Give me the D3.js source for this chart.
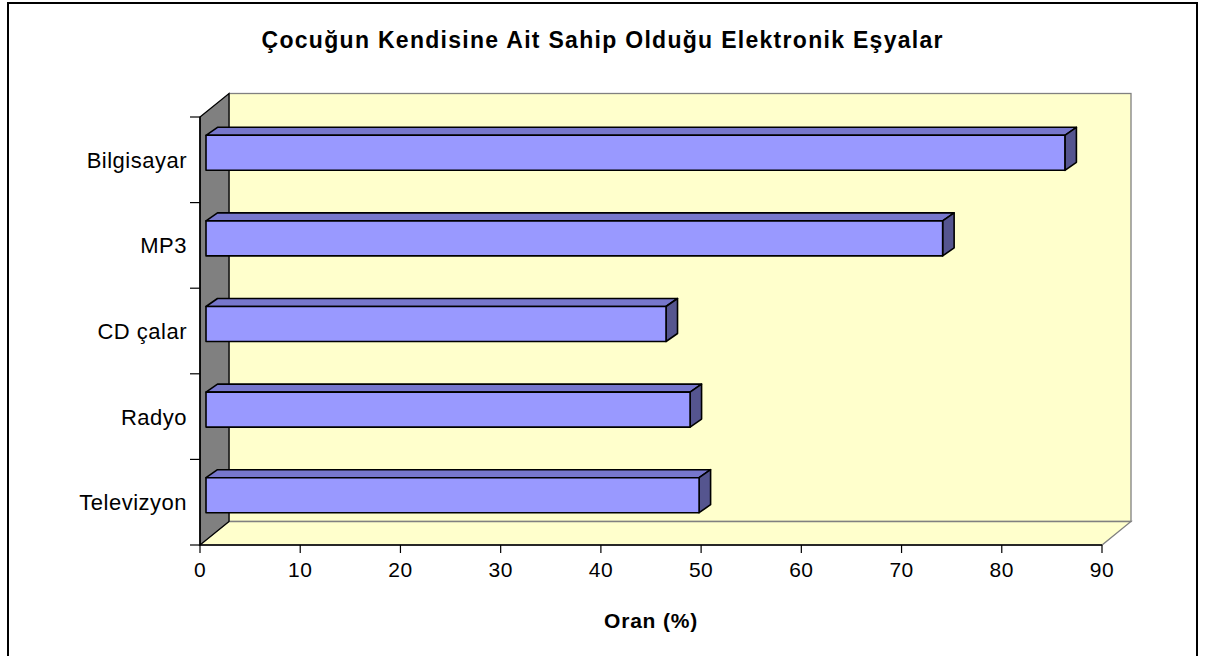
<!DOCTYPE html>
<html><head><meta charset="utf-8">
<script src="https://cdn.jsdelivr.net/npm/d3@7"></script>
<style>body{margin:0;background:#fff}svg{display:block;font-family:"Liberation Sans",Arial,sans-serif}</style>
</head><body><svg id="c" width="1214" height="656"></svg>
<script>
const categories = ["Bilgisayar","MP3","CD çalar","Radyo","Televizyon"];
const values = [85.7, 73.5, 45.9, 48.3, 49.2];
const xTicks = [0,10,20,30,40,50,60,70,80,90];
const title = "Çocuğun Kendisine Ait Sahip Olduğu Elektronik Eşyalar";
const xTitle = "Oran (%)";

const svg = d3.select("#c");
const x = d3.scaleLinear().domain([0,90]).range([200,1102]);
const y = d3.scaleBand().domain(categories).range([117,545]);
const D = [29,-23.5]; // wall depth
const top0 = 117, bot0 = 545;

// frame
svg.append("rect").attr("x",8).attr("y",3).attr("width",1189).attr("height",700)
  .attr("fill","#fff").attr("stroke","#000").attr("stroke-width",2);

// title
svg.append("text").attr("x",602).attr("y",48).attr("text-anchor","middle")
  .attr("font-weight","bold").attr("font-size",23)
  .attr("textLength",681).attr("lengthAdjust","spacing").text(title);

// back wall
svg.append("rect").attr("x",x(0)+D[0]).attr("y",top0+D[1]).attr("width",x(90)-x(0)).attr("height",bot0-top0)
  .attr("fill","#FFFFCC").attr("stroke","#808080").attr("stroke-width",1.3);
// floor
svg.append("polygon").attr("points",[[x(0),bot0],[x(0)+D[0],bot0+D[1]],[x(90)+D[0],bot0+D[1]],[x(90),bot0]].join(" "))
  .attr("fill","#FFFFCC").attr("stroke","#808080").attr("stroke-width",1.3);
// side wall
svg.append("polygon").attr("points",[[x(0),top0],[x(0)+D[0],top0+D[1]],[x(0)+D[0],bot0+D[1]],[x(0),bot0]].join(" "))
  .attr("fill","#808080").attr("stroke","#000").attr("stroke-width",1.3);

// axes lines
svg.append("line").attr("x1",x(0)).attr("x2",x(0)).attr("y1",top0).attr("y2",bot0).attr("stroke","#000").attr("stroke-width",1.5);
svg.append("line").attr("x1",x(0)).attr("x2",x(90)).attr("y1",bot0).attr("y2",bot0).attr("stroke","#000").attr("stroke-width",1.5);

// y ticks
const yEdges = categories.map(c=>y(c)).concat([bot0]);
svg.selectAll(".yt").data(yEdges).join("line").attr("x1",190).attr("x2",x(0)).attr("y1",d=>d).attr("y2",d=>d)
  .attr("stroke","#000").attr("stroke-width",1.2);
// x ticks
svg.selectAll(".xt").data(xTicks).join("line").attr("x1",d=>x(d)).attr("x2",d=>x(d)).attr("y1",bot0).attr("y2",bot0+8)
  .attr("stroke","#000").attr("stroke-width",1.2);
svg.selectAll(".xl").data(xTicks).join("text").attr("x",d=>x(d)).attr("y",577).attr("text-anchor","middle")
  .attr("font-size",21).attr("letter-spacing",0.5).text(d=>d);
// category labels
svg.selectAll(".yl").data(categories).join("text").attr("x",187).attr("y",c=>y(c)+y.bandwidth()/2+8)
  .attr("text-anchor","end").attr("font-size",22).attr("letter-spacing",0.5).text(c=>c);
// x title
svg.append("text").attr("x",651).attr("y",628).attr("text-anchor","middle").attr("font-weight","bold")
  .attr("font-size",21).attr("letter-spacing",0.8).text(xTitle);

// bars
const off = [6,-7], bd = [11.5,-8], bh = 35;
const g = svg.append("g").attr("stroke","#000").attr("stroke-width",1.6).attr("stroke-linejoin","round");
categories.forEach((c,i)=>{
  const x0 = x(0)+off[0], x1 = x(values[i])+off[0];
  const yc = y(c)+y.bandwidth()/2+off[1];
  const yt = yc-bh/2, yb = yc+bh/2;
  g.append("polygon").attr("points",[[x0,yt],[x0+bd[0],yt+bd[1]],[x1+bd[0],yt+bd[1]],[x1,yt]].join(" ")).attr("fill","#7777CC");
  g.append("polygon").attr("points",[[x1,yt],[x1+bd[0],yt+bd[1]],[x1+bd[0],yb+bd[1]],[x1,yb]].join(" ")).attr("fill","#55558F");
  g.append("rect").attr("x",x0).attr("y",yt).attr("width",x1-x0).attr("height",bh).attr("fill","#9999FF");
});
</script></body></html>
